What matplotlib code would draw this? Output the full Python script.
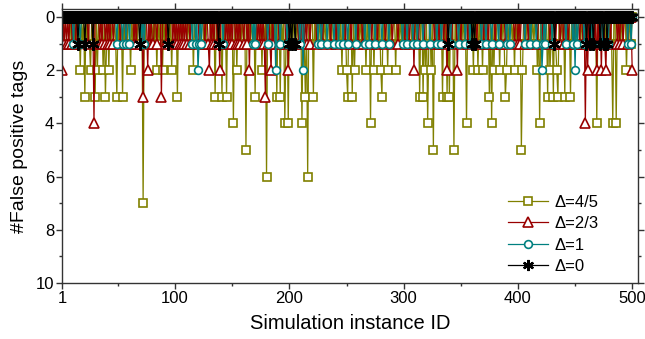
import numpy as np
import matplotlib
matplotlib.use('Agg')
import matplotlib.pyplot as plt
from matplotlib.ticker import MultipleLocator, FixedLocator
from matplotlib.lines import Line2D

plt.rcParams['font.family'] = ['Liberation Sans', 'DejaVu Sans']

n_instances = 500
labels = ['Δ=4/5', 'Δ=2/3', 'Δ=1', 'Δ=0']
colors = ['#808000', '#990000', '#008080', '#000000']

# ---- data: instance IDs (1-based) with a given number of false positives (others are 0)
# Δ=4/5
d45_one = [3, 7, 9, 12, 14, 19, 23, 25, 28, 34, 35, 40, 44, 46, 48, 51, 56, 58, 63, 65, 67, 70,
           74, 78, 80, 82, 86, 91, 93, 95, 100, 104, 106, 108, 111, 113, 118, 122, 125, 127, 131,
           133, 137, 139, 143, 147, 149, 156, 158, 160, 164, 166, 168, 172, 174, 178, 183, 185,
           187, 194, 197, 201, 203, 206, 208, 213, 218, 223, 225, 227, 230, 232, 235, 237, 240,
           242, 244, 248, 253, 259, 261, 263, 265, 269, 276, 278, 283, 288, 290, 296, 298, 300,
           302, 304, 307, 309, 311, 322, 328, 330, 332, 336, 342, 346, 349, 351, 353, 357, 359,
           363, 367, 371, 373, 381, 386, 388, 392, 395, 399, 401, 407, 410, 412, 414, 421, 423,
           429, 433, 437, 439, 443, 448, 450, 452, 455, 457, 459, 461, 464, 466, 471, 474, 477,
           480, 482, 488, 490, 492, 497, 499]
d45_two = [17, 26, 32, 37, 42, 61, 84, 89, 97, 116, 154, 176, 246, 250, 257, 267, 274, 280, 286,
           293, 319, 324, 361, 365, 369, 379, 384, 390, 397, 404, 417, 428, 434, 495]
d45_three = [21, 30, 39, 49, 54, 102, 135, 141, 145, 170, 189, 192, 214, 221, 251, 255, 281, 314,
             317, 334, 338, 340, 375, 389, 426, 431, 435, 441, 446]
d45_four = [151, 196, 199, 211, 271, 321, 355, 377, 419, 469, 483, 486]
d45_five = [162, 326, 344, 403]
d45_six = [180, 216]
d45_seven = [72]

# Δ=2/3
d23_one = [3, 5, 7, 10, 13, 24, 34, 36, 39, 41, 43, 46, 52, 57, 64, 66, 78, 80, 81, 84, 92, 98,
           100, 102, 104, 106, 108, 110, 113, 121, 126, 129, 132, 134, 137, 144, 146, 148, 150,
           153, 155, 157, 160, 163, 172, 174, 176, 178, 181, 183, 186, 191, 197, 208, 210, 213,
           215, 218, 224, 229, 236, 241, 249, 254, 260, 264, 272, 277, 284, 290, 295, 301, 305,
           313, 318, 327, 331, 335, 342, 350, 356, 364, 370, 374, 380, 385, 389, 397, 400, 402,
           406, 409, 417, 422, 428, 433, 437, 440, 444, 449, 454, 457, 463, 467, 471, 476, 481,
           487, 489, 492, 496]
d23_two = [1, 76, 130, 139, 165, 184, 199, 309, 338, 347, 461, 469, 473, 477, 500]
d23_three = [72, 88, 179]
d23_four = [29, 459]

# Δ=1
d1_one = [11, 17, 49, 54, 57, 60, 71, 73, 115, 118, 121, 123, 142, 168, 170, 181, 192, 198, 209,
          225, 228, 233, 239, 243, 247, 251, 258, 266, 270, 275, 281, 287, 299, 303, 308, 312,
          317, 323, 329, 333, 341, 348, 354, 358, 368, 372, 377, 383, 390, 393, 406, 411, 416,
          422, 424, 430, 442, 448, 452, 458, 465, 474, 479, 496, 499]
d1_two = [120, 188, 212, 421, 450]

# Δ=0
d0_one = [15, 21, 28, 69, 94, 138, 200, 202, 205, 339, 360, 362, 432, 460, 463, 466, 472, 475, 478]


def build(levels):
    y = np.zeros(n_instances)
    for v, ids in levels:
        y[np.asarray(ids) - 1] = v
    return y


x = np.arange(1, n_instances + 1)
series = [
    build([(1, d45_one), (2, d45_two), (3, d45_three), (4, d45_four), (5, d45_five),
           (6, d45_six), (7, d45_seven)]),
    build([(1, d23_one), (2, d23_two), (3, d23_three), (4, d23_four)]),
    build([(1, d1_one), (2, d1_two)]),
    build([(1, d0_one)]),
]

fig = plt.figure(figsize=(6.45, 3.39), dpi=100)
ax = fig.add_axes([0.0961, 0.1652, 0.8938, 0.8083])

markers = ['s', '^', 'o', (6, 2, 0)]
msizes = [5.2, 7.3, 5.6, 9.0]
mews = [1.2, 1.2, 1.2, 1.6]
for y, c, m, ms, mw, lab in zip(series, colors, markers, msizes, mews, labels):
    ax.plot(x, y, color=c, lw=0.9, marker=m, ms=ms, mfc='white', mec=c, mew=mw,
            label=lab)

ax.set_xlim(1, 505.5)
ax.set_ylim(10, -0.3)
ax.xaxis.set_major_locator(FixedLocator([1, 100, 200, 300, 400, 500]))
ax.xaxis.set_minor_locator(FixedLocator([50, 150, 250, 350, 450]))
ax.yaxis.set_major_locator(MultipleLocator(2))
ax.yaxis.set_minor_locator(MultipleLocator(1))

for s in ax.spines.values():
    s.set_color('#333333')
    s.set_linewidth(1.0)
ax.tick_params(which='both', direction='out', top=True, right=True, color='#333333',
               labelsize=12, pad=1.5)
ax.tick_params(which='major', length=4, width=1.0)
ax.tick_params(which='minor', length=2.5, width=1.0)

ax.set_xlabel('Simulation instance ID', fontsize=14.5, labelpad=6)
ax.set_ylabel('#False positive tags', fontsize=14, labelpad=6)

handles = [Line2D([], [], color=c, lw=0.9, marker=m, ms=ms, mfc='white', mec=c, mew=mw)
           for c, m, ms, mw in zip(colors, markers, [5.2, 7.3, 5.6, 8.0], mews)]
ax.legend(handles, labels, loc='upper left', bbox_to_anchor=(0.788, 0.425),
          bbox_transform=fig.transFigure, frameon=False, fontsize=12,
          handlelength=2.4, handletextpad=0.35, labelspacing=0.38, borderpad=0,
          borderaxespad=0)

fig.savefig('out.png', dpi=100)
